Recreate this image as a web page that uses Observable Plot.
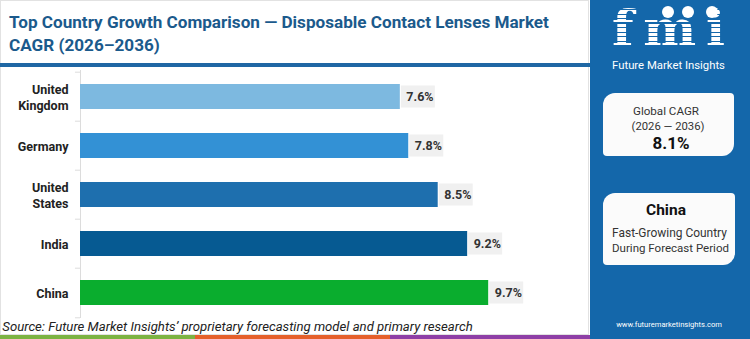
<!DOCTYPE html>
<html>
<head>
<meta charset="utf-8">
<script src="https://cdn.jsdelivr.net/npm/d3@7"></script>
<script src="https://cdn.jsdelivr.net/npm/@observablehq/plot@0.6"></script>
<style>
  html, body { margin: 0; padding: 0; }
  body { width: 750px; height: 339px; position: relative; overflow: hidden; background: #fff; font-family: Roboto, "Open Sans", sans-serif; }
  .abs { position: absolute; }
  .t { position: absolute; white-space: nowrap; transform: translate(-50%, -50%); line-height: 1; }
  .card { position: absolute; background: #fbfbfb; border-radius: 12px 4px 12px 4px; }
</style>
</head>
<body>
<script>
// ---- data ----
const countries = ["United Kingdom", "Germany", "United States", "India", "China"];
const cagr = [7.6, 7.8, 8.5, 9.2, 9.7];
const barColors = ["#7db9e0", "#3391d5", "#1e6fae", "#065a92", "#0aad2e"];
const titleLines = ["Top Country Growth Comparison — Disposable Contact Lenses Market", "CAGR (2026–2036)"];
const sourceText = "Source: Future Market Insights’ proprietary forecasting model and primary research";
const globalLabel = ["Global CAGR", "(2026 — 2036)"];
const globalValue = "8.1%";
const leaderCountry = "China";
const leaderText = ["Fast-Growing Country", "During Forecast Period"];
const logoText = "fmi";
const brandName = "Future Market Insights";
const website = "www.futuremarketinsights.com";
const stripeColors = ["#7cb342", "#e5602b", "#8e3fa6"];

const data = countries.map((c, i) => ({c, v: cagr[i], color: barColors[i]}));

// ---- helpers ----
function addText(str, cx, cy, opts, targetW) {
  const el = document.createElement("div");
  el.className = "t";
  el.textContent = str;
  el.style.left = cx + "px";
  el.style.top = cy + "px";
  Object.assign(el.style, opts);
  document.body.appendChild(el);
  if (targetW) {
    const fs = parseFloat(el.style.fontSize);
    const w = el.getBoundingClientRect().width;
    el.style.fontSize = (fs * targetW / w) + "px";
  }
  return el;
}
function addBox(x, y, w, h, style, cls) {
  const el = document.createElement("div");
  el.className = cls || "abs";
  el.style.left = x + "px"; el.style.top = y + "px";
  el.style.width = w + "px"; el.style.height = h + "px";
  Object.assign(el.style, style);
  document.body.appendChild(el);
  return el;
}

// ---- left panel ----
addBox(0, 0, 589, 335, {border: "1px solid #e2e2e2", boxSizing: "border-box"});
const t1 = addText(titleLines[0], 9 + 270, 23, {fontSize: "15px", fontWeight: "700", color: "#1b5a8c"}, 540);
const t2 = addText(titleLines[1], 0, 46, {fontSize: t1.style.fontSize, fontWeight: "700", color: "#1b5a8c", transform: "translate(0,-50%)"});
t2.style.left = "9px";
addBox(0, 63, 590, 4, {background: "#1f67a4"});

// chart
const H = 248, mt = 0, mb = 0;
const step = (H - mt - mb) / countries.length;
const chart = Plot.plot({
  width: 589,
  height: H,
  marginLeft: 80,
  marginRight: 4,
  marginTop: mt,
  marginBottom: mb,
  style: {fontFamily: "Roboto, sans-serif", background: "transparent", overflow: "visible"},
  x: {domain: [0, 12], axis: null},
  y: {domain: countries, paddingInner: 0.5, paddingOuter: 0.25, label: null},
  color: {type: "identity"},
  marks: [
    Plot.ruleX([0], {stroke: "#dcdcdc"}),
    Plot.ruleY(countries, {y: d => d, dy: -step / 2, x1: -0.12, x2: 0, stroke: "#dcdcdc"}),
    Plot.ruleY([countries[countries.length - 1]], {y: d => d, dy: step / 2, x1: -0.12, x2: 0, stroke: "#dcdcdc"}),
    Plot.axisY({tickSize: 0, tickPadding: 12, fontSize: 12.5, fontWeight: "bold", fill: "#222", lineHeight: 1.25,
                tickFormat: d => d.replace(" ", "\n"), label: null}),
    Plot.barX(data, {x: "v", y: "c", fill: "color"}),
    Plot.barX(data, {x1: "v", x2: "v", y: "c", fill: "#f0f0f0", insetLeft: 1, insetRight: -35, insetTop: 1.5, insetBottom: 1.5}),
    Plot.text(data, {x: "v", y: "c", text: d => d.v.toFixed(1) + "%", dx: 6, textAnchor: "start",
                     fontWeight: "bold", fontSize: 12.5, fill: "#333"})
  ]
});
const wrap = addBox(0, 70, 589, H, {});
wrap.appendChild(chart);

addText(sourceText, 2 + 235.5, 327, {fontSize: "13px", fontStyle: "italic", color: "#222"}, 471);
stripeColors.forEach((c, i) => addBox(i * 195, 335, i === 2 ? 200 : 195, 4, {background: c}));

// ---- right panel ----
addBox(590, 0, 160, 339, {background: "#1467aa"});
// logo (font sized so its text box stays within 1..59)
const logo = document.createElement("div");
logo.textContent = logoText;
const logoFs = 50;
Object.assign(logo.style, {position: "absolute", whiteSpace: "nowrap", lineHeight: "1", fontSize: logoFs + "px",
  fontWeight: "700", color: "#fff", fontFamily: "'DejaVu Serif', serif", left: "612px", top: "4px"});
document.body.appendChild(logo);
{
  const w0 = logo.getBoundingClientRect().width;
  logo.style.letterSpacing = ((113 - w0) / 2) + "px";
}
addBox(610, 6, 120, 44, {background: "repeating-linear-gradient(to bottom, transparent 0px, transparent 3px, #1467aa 3px, #1467aa 4.5px)"});
[[668, 12], [688, 12], [712, 12]].forEach(([x, y]) => addBox(x - 6, y - 6, 12, 12, {background: "#fff", borderRadius: "50%"}));
addText(brandName, 668.5, 66, {fontSize: "11px", color: "#fff"}, 113);

addBox(603, 93, 131, 63, {}, "card");
addText(globalLabel[0], 666, 112, {fontSize: "12px", color: "#333"}, 66);
addText(globalLabel[1], 668, 127, {fontSize: "12px", color: "#333"}, 73);
addText(globalValue, 671, 143, {fontSize: "18px", fontWeight: "700", color: "#111"}, 37);

addBox(603, 193, 132, 72, {}, "card");
addText(leaderCountry, 666, 211, {fontSize: "14px", fontWeight: "700", color: "#111"}, 40);
addText(leaderText[0], 669.5, 234, {fontSize: "12px", color: "#333"}, 115);
addText(leaderText[1], 670.5, 249, {fontSize: "12px", color: "#333"}, 117);

addText(website, 669, 325, {fontSize: "9px", color: "#fff"}, 106);
</script>
</body>
</html>
